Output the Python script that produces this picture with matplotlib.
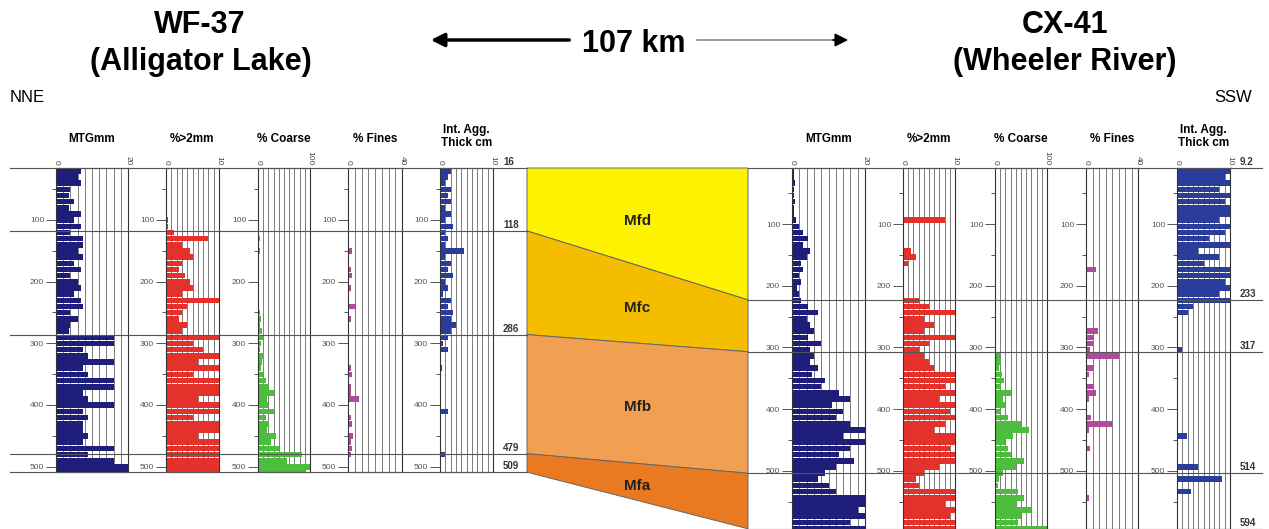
import numpy as np
import matplotlib.pyplot as plt

plt.rcParams['font.family'] = ['Liberation Sans', 'DejaVu Sans']

# depth of the top of each 10 cm sample (cm)
left_depth = np.arange(16, 509, 10)
right_depth = np.arange(9.2, 594, 10)

titles = ['MTGmm', '%>2mm', '% Coarse', '% Fines', 'Int. Agg.\nThick cm']
xmax = [20, 10, 100, 40, 10]
grid_step = [2, 1, 10, 5, 1]
colors = ['#1e1e7a', '#e5312b', '#4dbd3d', '#b04a9c', '#2b3d9a']

# WF-37 (Alligator Lake)
left_mtg = [7, 6, 7, 4, 3.5, 5, 3.5, 7, 5, 7,
            4, 7.5, 7.5, 6, 7.5, 5, 7, 4, 6, 7,
            5, 7, 7.5, 4, 6, 4, 3.5, 16, 16, 7.5,
            9, 16, 7.5, 9, 16, 16, 7.5, 9, 16, 7.5,
            9, 7.5, 7.5, 9, 7.5, 16, 9, 16, 20, 20]
left_gt2 = [0, 0, 0, 0, 0, 0, 0, 0.2, 0.3, 0.3,
            1.5, 8, 3, 4.5, 5, 3, 2.5, 3.5, 4.5, 5,
            3, 10, 4, 3, 2.5, 4, 3, 10, 5, 7,
            10, 6, 10, 5, 10, 10, 10, 6, 10, 10,
            5, 10, 10, 6, 10, 10, 10, 10, 10, 10]
left_coarse = [0, 0, 0, 0, 0, 0, 0, 0, 0, 0,
               0, 4, 0, 3, 0, 0, 0, 0, 0, 0,
               0, 0, 0, 3, 6, 4, 8, 10, 6, 4,
               12, 8, 6, 10, 15, 22, 30, 18, 20, 30,
               15, 22, 18, 35, 25, 40, 85, 55, 100, 90]
left_fines = [0, 0, 0, 0, 0, 0, 0, 0, 0, 0.5,
              1, 1, 1, 3, 1, 1, 2, 3, 1, 2,
              1, 1, 6, 1, 2, 1, 1, 0.5, 0.5, 0,
              0, 1, 2, 3, 1, 2, 2, 8, 1, 0.5,
              2, 3, 1, 4, 2, 3, 2, 1, 0, 0]
left_agg = [2, 1.5, 1, 2, 1.5, 2, 1, 2, 1, 2.5,
            1, 1.5, 1, 4.5, 1, 2, 1.5, 2.5, 1, 1.5,
            0.5, 2, 1.5, 2.5, 2, 3, 2, 1.5, 0.5, 1.5,
            0, 0, 0.3, 0, 0, 0, 0, 0, 0, 1.5,
            0, 0, 0, 0, 0, 0, 1, 0, 0, 0]

# CX-41 (Wheeler River)
right_mtg = [0.5, 0.5, 0.8, 0.5, 0.5, 0.8, 0.5, 0.5, 1, 2,
             3, 4.5, 3, 5, 4, 2.5, 3, 2, 2.5, 1.5,
             2, 2.5, 4.5, 7, 4, 5, 6, 4.5, 8, 5,
             6, 5, 7, 5.5, 9, 8, 13, 16, 11, 14,
             12, 16, 20, 14, 20, 16, 13, 17, 12, 9,
             7, 10, 12, 20, 20, 18, 20, 16, 20]
right_gt2 = [0, 0, 0, 0, 0, 0, 0, 0, 8, 0,
             0, 0, 0, 1.5, 2.5, 1, 0, 0, 0, 0,
             0, 3, 5, 10, 4, 6, 4, 10, 5, 3,
             4, 5, 6, 10, 10, 8, 10, 7, 10, 9,
             10, 8, 6, 10, 10, 9, 10, 10, 7, 4,
             2.5, 3, 10, 10, 8, 10, 9, 10, 10]
right_coarse = [0, 0, 0, 0, 0, 0, 0, 0, 0, 0,
                0, 0, 0, 0, 0, 0, 0, 0, 0, 0,
                0, 0, 0, 0, 0, 0, 0, 0, 0, 2,
                10, 12, 8, 14, 18, 12, 30, 15, 20, 12,
                25, 50, 65, 35, 20, 25, 30, 55, 40, 15,
                8, 5, 45, 55, 40, 70, 50, 45, 100]
right_fines = [0, 0, 0, 0, 0, 0, 0, 0, 0, 0,
               0, 0, 0, 0, 0, 0, 8, 0, 0, 0,
               0.5, 0, 0, 0, 0, 0, 9, 6, 5, 3,
               25, 1, 5, 2, 1, 6, 8, 2, 0, 1,
               4, 20, 2, 1, 0.5, 3, 1, 0, 0, 0,
               0, 0, 0, 2, 0, 0, 0, 0, 0]
right_agg = [10, 9, 10, 8, 10, 9, 10, 10, 8, 10,
             9, 6, 10, 4, 8, 5, 10, 10, 9, 10,
             8, 10, 3, 2, 0, 0, 0, 0, 0, 1,
             0, 0, 0, 0, 0, 0, 0, 0, 0, 0,
             0, 0, 0, 1.8, 0, 0, 0, 0, 4, 0,
             8.5, 0, 2.6, 0, 0, 0, 0, 0, 0]

left_logs = [left_mtg, left_gt2, left_coarse, left_fines, left_agg]
right_logs = [right_mtg, right_gt2, right_coarse, right_fines, right_agg]

# unit boundaries (depth where drawn, and the label shown)
left_bounds = [16, 118, 286, 479, 509]
left_bound_labels = ['16', '118', '286', '479', '509']
right_bounds = [9.2, 223, 307, 504, 594]
right_bound_labels = ['9.2', '233', '317', '514', '594']
units = ['Mfd', 'Mfc', 'Mfb', 'Mfa']
unit_colors = ['#fff200', '#f5bd00', '#f0a050', '#e97a22']

W, H = 1269, 529
fig = plt.figure(figsize=(W / 100, H / 100), dpi=100)


def px_axes(x0, x1, y0, y1):
    return fig.add_axes([x0 / W, 1 - y1 / H, (x1 - x0) / W, (y1 - y0) / H])


def draw_track(ax, depth, vals, k, dtop, dbot):
    ax.barh(depth, vals, height=9, align='edge', color=colors[k], linewidth=0, zorder=2)
    ax.set_xlim(0, xmax[k])
    ax.set_ylim(dbot, dtop)
    ax.xaxis.tick_top()
    ax.set_xticks([0, xmax[k]])
    ax.set_xticklabels(['0', str(xmax[k])], rotation=-90, fontsize=6, color='#444444')
    ax.set_xticks(np.arange(0, xmax[k] + grid_step[k], grid_step[k]), minor=True)
    ax.tick_params(axis='x', which='both', length=0, pad=2)
    ax.grid(axis='x', which='both', color='#666666', lw=0.6)
    ax.set_axisbelow(True)
    ax.set_yticks(np.arange(100, dbot, 100))
    ax.set_yticks(np.arange(50, dbot, 100), minor=True)
    ax.tick_params(axis='y', which='major', length=7, width=0.7, color='#555555',
                   labelsize=6, labelcolor='#555555', pad=1.5)
    ax.tick_params(axis='y', which='minor', length=3, width=0.7, color='#555555')
    for s in ax.spines.values():
        s.set_linewidth(0.8)
        s.set_color('#333333')


left_x = [(56, 128), (166, 219), (258, 310), (348, 402), (440, 493)]
right_x = [(792, 865), (903, 955), (995, 1047), (1086, 1138), (1177, 1230)]

axL, axR = [], []
for k in range(5):
    a = px_axes(left_x[k][0], left_x[k][1], 168, 472.2)
    draw_track(a, left_depth, left_logs[k], k, 16, 509)
    axL.append(a)
    b = px_axes(right_x[k][0], right_x[k][1], 168, 528.8)
    draw_track(b, right_depth, right_logs[k], k, 9.2, 594)
    axR.append(b)

# overlay in pixel coordinates for titles, boundaries and the correlation panel
ov = fig.add_axes([0, 0, 1, 1])
ov.set_xlim(0, W)
ov.set_ylim(H, 0)
ov.axis('off')
ov.patch.set_alpha(0)


def depth_px(ax, d):
    disp = ax.transData.transform((0, d))
    return ov.transData.inverted().transform(disp)[1]


for k in range(5):
    yb = 146 if '\n' in titles[k] else 142
    for xr in (left_x[k], right_x[k]):
        ov.text((xr[0] + xr[1]) / 2, yb, titles[k], ha='center', va='baseline',
                fontsize=8.5, fontweight='bold', linespacing=1.1)

mid0, mid1 = 527, 748
for d, lab in zip(left_bounds, left_bound_labels):
    y = depth_px(axL[0], d)
    ov.plot([10, mid0], [y, y], color='#555555', lw=0.8)
    ov.text(503, y - 1, lab, fontsize=7, fontweight='bold', color='#333333',
            ha='left', va='bottom')
for d, lab in zip(right_bounds, right_bound_labels):
    y = depth_px(axR[0], d)
    ov.plot([mid1, 1262], [y, y], color='#555555', lw=0.8)
    ov.text(1240, y - 1, lab, fontsize=7, fontweight='bold', color='#333333',
            ha='left', va='bottom')

for i in range(4):
    yl0 = depth_px(axL[0], left_bounds[i])
    yl1 = depth_px(axL[0], left_bounds[i + 1])
    yr0 = depth_px(axR[0], right_bounds[i])
    yr1 = depth_px(axR[0], right_bounds[i + 1])
    ov.fill([mid0, mid1, mid1, mid0], [yl0, yr0, yr1, yl1], facecolor=unit_colors[i],
            edgecolor='#666666', lw=0.7)
    ov.text((mid0 + mid1) / 2, (yl0 + yl1 + yr0 + yr1) / 4 + 4, units[i], ha='center',
            va='center', fontsize=11, fontweight='bold', color='#222222')

# header
ov.text(200, 25, 'WF-37', ha='center', va='center', fontsize=22, fontweight='bold')
ov.text(201, 62, '(Alligator Lake)', ha='center', va='center', fontsize=22, fontweight='bold')
ov.text(1065, 25, 'CX-41', ha='center', va='center', fontsize=22, fontweight='bold')
ov.text(1065, 62, '(Wheeler River)', ha='center', va='center', fontsize=22, fontweight='bold')
ov.text(634, 44, '107 km', ha='center', va='center', fontsize=22, fontweight='bold')
ov.annotate('', xy=(428, 40), xytext=(572, 40),
            arrowprops=dict(arrowstyle='-|>', lw=2.5, color='black', mutation_scale=20))
ov.plot([697, 838], [40, 40], color='#888888', lw=1.2)
ov.annotate('', xy=(851, 40), xytext=(830, 40),
            arrowprops=dict(arrowstyle='-|>', lw=1.2, color='black', mutation_scale=20))
ov.text(10, 98, 'NNE', ha='left', va='center', fontsize=12)
ov.text(1214, 98, 'SSW', ha='left', va='center', fontsize=12)

fig.savefig('out.png', dpi=100)
